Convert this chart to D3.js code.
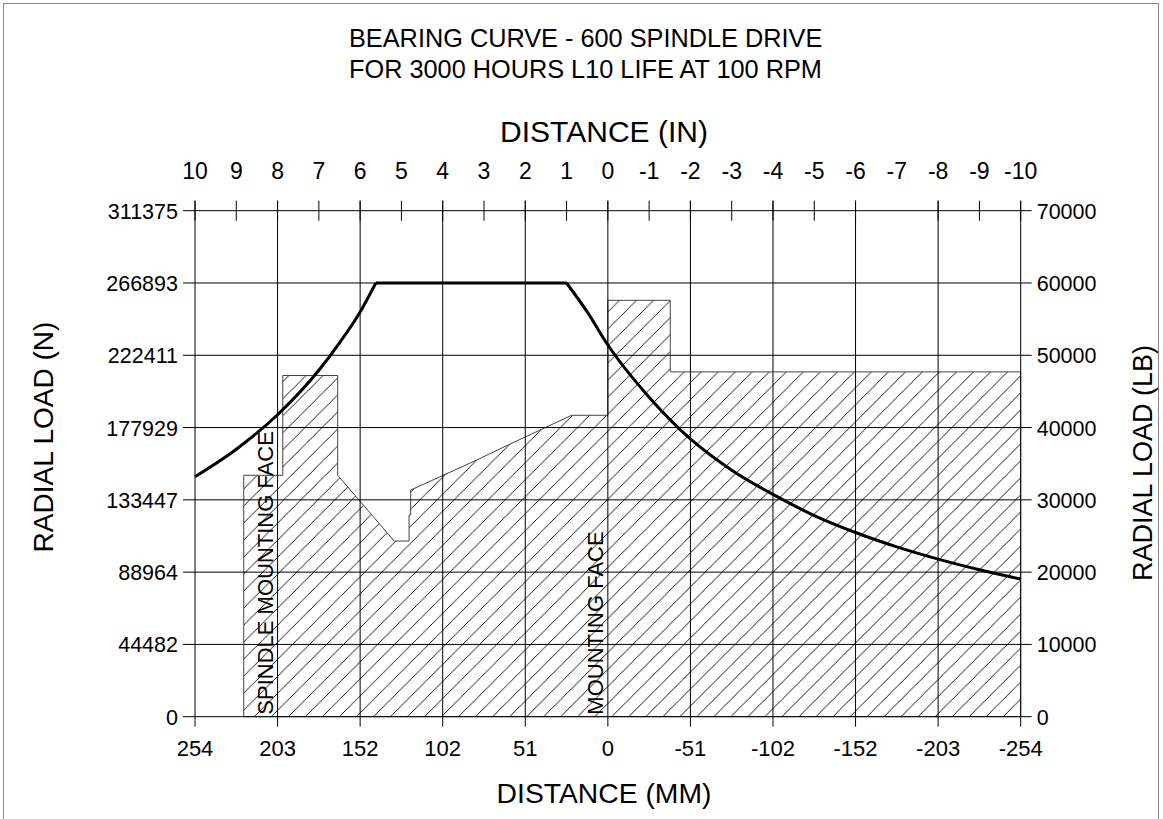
<!DOCTYPE html>
<html><head><meta charset="utf-8">
<script src="https://cdn.jsdelivr.net/npm/d3@7"></script>
<style>
body{margin:0;background:#fff}
svg{display:block}
text{font-family:"Liberation Sans",Arial,Helvetica,sans-serif;fill:#000}
</style>
</head><body>
<svg id="chart" width="1163" height="819"></svg>
<script>
// ---------- DATA ----------
const titleLines = ["BEARING CURVE - 600 SPINDLE DRIVE", "FOR 3000 HOURS L10 LIFE AT 100 RPM"];
const topAxisTitle = "DISTANCE (IN)";
const bottomAxisTitle = "DISTANCE (MM)";
const leftAxisTitle = "RADIAL LOAD (N)";
const rightAxisTitle = "RADIAL LOAD (LB)";

const inchTicks = [10, 9, 8, 7, 6, 5, 4, 3, 2, 1, 0, -1, -2, -3, -4, -5, -6, -7, -8, -9, -10];
const inchTickMarks = [10, 9, 8, 7, 6, 5, 4, 3, 2, 1, 0, -1, -2, -3, -4, -5, -6, -8, -9, -10];
const mmTicks = [254, 203.2, 152.4, 101.6, 50.8, 0, -50.8, -101.6, -152.4, -203.2, -254];
const mmTickLabels = ["254", "203", "152", "102", "51", "0", "-51", "-102", "-152", "-203", "-254"];
const lbTicks = [0, 10000, 20000, 30000, 40000, 50000, 60000, 70000];
const lbTickLabels = ["0", "10000", "20000", "30000", "40000", "50000", "60000", "70000"];
const newtonTickLabels = ["0", "44482", "88964", "133447", "177929", "222411", "266893", "311375"];

// bearing capacity curve (distance in inches, load in lb)
const curveLeftIn  = [10, 9, 8, 7, 6.5, 6, 5.62];
const curveLeftLB  = [33200, 37000, 41770, 47920, 51720, 56000, 60000];
const plateauIn    = [5.62, 1.0];
const plateauLB    = [60000, 60000];
const curveRightIn = [1.0, 0.5, 0, -1, -2, -3, -4, -5, -6, -7, -8, -9, -10];
const curveRightLB = [60000, 56000, 51420, 44200, 38420, 34100, 30750, 27830, 25480, 23490, 21800, 20330, 19040];

// hatched load region (distance in mm, load in lb)
const regionMM = [224, 224, 200, 200, 166.2, 166.2, 131.4, 122.3, 122.3, 121.3, 121.3, 80.7, 61.3, 22.3, 0, 0, -38.4, -38.4, -254, -254];
const regionLB = [0, 33400, 33400, 47200, 47200, 33400, 24300, 24300, 27900, 27900, 31350, 35500, 37600, 41700, 41700, 57600, 57600, 47700, 47700, 0];

const annotations = [
  {text: "SPINDLE MOUNTING FACE", mm: 211},
  {text: "MOUNTING FACE", mm: 8}
];

// ---------- LAYOUT ----------
const svg = d3.select("#chart");
const X0 = 195, X1 = 1020.7, Y0 = 716.7, Y1 = 210.7;
const xMM = d3.scaleLinear().domain([254, -254]).range([X0, X1]);
const xIN = d3.scaleLinear().domain([10, -10]).range([X0, X1]);
const y = d3.scaleLinear().domain([0, 70000]).range([Y0, Y1]);

svg.append("rect").attr("width", 1163).attr("height", 819).attr("fill", "#fff");
// frame
svg.append("rect").attr("x", 3.5).attr("y", 3.5).attr("width", 1155).attr("height", 860)
  .attr("fill", "none").attr("stroke", "#888").attr("stroke-width", 1);

// hatch pattern
const defs = svg.append("defs");
const s = 17.02;
const pat = defs.append("pattern").attr("id", "hatch").attr("patternUnits", "userSpaceOnUse")
  .attr("x", 0.8).attr("y", 0).attr("width", s).attr("height", s);
pat.append("path")
  .attr("d", `M0,${s} L${s},0 M-2,2 L2,-2 M${s-2},${s+2} L${s+2},${s-2}`)
  .attr("stroke", "#000").attr("stroke-width", 0.9).attr("fill", "none");

// region
const regionPts = regionMM.map((m, i) => [xMM(m), y(regionLB[i])]);
svg.append("path")
  .attr("d", d3.line()(regionPts) + "Z")
  .attr("fill", "url(#hatch)")
  .attr("stroke", "#444").attr("stroke-width", 1);

// grid: horizontal
const g = svg.append("g").attr("stroke", "#000").attr("stroke-width", 1);
g.selectAll(".hg").data(lbTicks).join("line")
  .attr("x1", X0 - 12).attr("x2", X1 + 11)
  .attr("y1", d => y(d)).attr("y2", d => y(d));
// grid: vertical (mm ticks)
g.selectAll(".vg").data(mmTicks).join("line")
  .attr("x1", d => xMM(d)).attr("x2", d => xMM(d))
  .attr("y1", Y1 - 10).attr("y2", Y0 + 10);
// top inch tick marks
g.selectAll(".it").data(inchTickMarks).join("line")
  .attr("x1", d => xIN(d)).attr("x2", d => xIN(d))
  .attr("y1", Y1 - 10).attr("y2", Y1 + 10);

// bearing curve
const line = d3.line().x(d => xIN(d[0])).y(d => y(d[1]));
const curveGroup = svg.append("g").attr("fill", "none").attr("stroke", "#000")
  .attr("stroke-width", 3).attr("stroke-linejoin", "round");
curveGroup.append("path")
  .attr("d", line.curve(d3.curveMonotoneX)(curveLeftIn.map((v, i) => [v, curveLeftLB[i]])));
curveGroup.append("path")
  .attr("d", line.curve(d3.curveLinear)(plateauIn.map((v, i) => [v, plateauLB[i]])));
curveGroup.append("path")
  .attr("d", line.curve(d3.curveMonotoneX)(curveRightIn.map((v, i) => [v, curveRightLB[i]])));

// annotations (vertical)
svg.selectAll(".ann").data(annotations).join("text")
  .attr("transform", d => `translate(${xMM(d.mm) + 8},${Y0 - 2}) rotate(-90)`)
  .attr("font-size", 22).text(d => d.text);

// ---------- TEXT ----------
svg.selectAll(".title").data(titleLines).join("text")
  .attr("x", 349).attr("y", (d, i) => 47 + i * 31)
  .attr("text-anchor", "start").attr("font-size", 25.3).text(d => d);

svg.append("text").attr("x", 604).attr("y", 142)
  .attr("text-anchor", "middle").attr("font-size", 30).text(topAxisTitle);
svg.append("text").attr("x", 604).attr("y", 803)
  .attr("text-anchor", "middle").attr("font-size", 28.3).text(bottomAxisTitle);

svg.selectAll(".itl").data(inchTicks).join("text")
  .attr("x", d => xIN(d)).attr("y", 179)
  .attr("text-anchor", "middle").attr("font-size", 23).text(d => String(d));

svg.selectAll(".mtl").data(mmTicks).join("text")
  .attr("x", d => xMM(d)).attr("y", 756)
  .attr("text-anchor", "middle").attr("font-size", 22).text((d, i) => mmTickLabels[i]);

svg.selectAll(".ntl").data(lbTicks).join("text")
  .attr("x", X0 - 17).attr("y", d => y(d) + 8)
  .attr("text-anchor", "end").attr("font-size", 21.5).text((d, i) => newtonTickLabels[i]);

svg.selectAll(".ltl").data(lbTicks).join("text")
  .attr("x", X1 + 16).attr("y", d => y(d) + 8)
  .attr("text-anchor", "start").attr("font-size", 21.5).text((d, i) => lbTickLabels[i]);

svg.append("text").attr("transform", `translate(53,437) rotate(-90)`)
  .attr("text-anchor", "middle").attr("font-size", 28).text(leftAxisTitle);
svg.append("text").attr("transform", `translate(1152,463) rotate(-90)`)
  .attr("text-anchor", "middle").attr("font-size", 27).text(rightAxisTitle);
</script>
</body></html>
